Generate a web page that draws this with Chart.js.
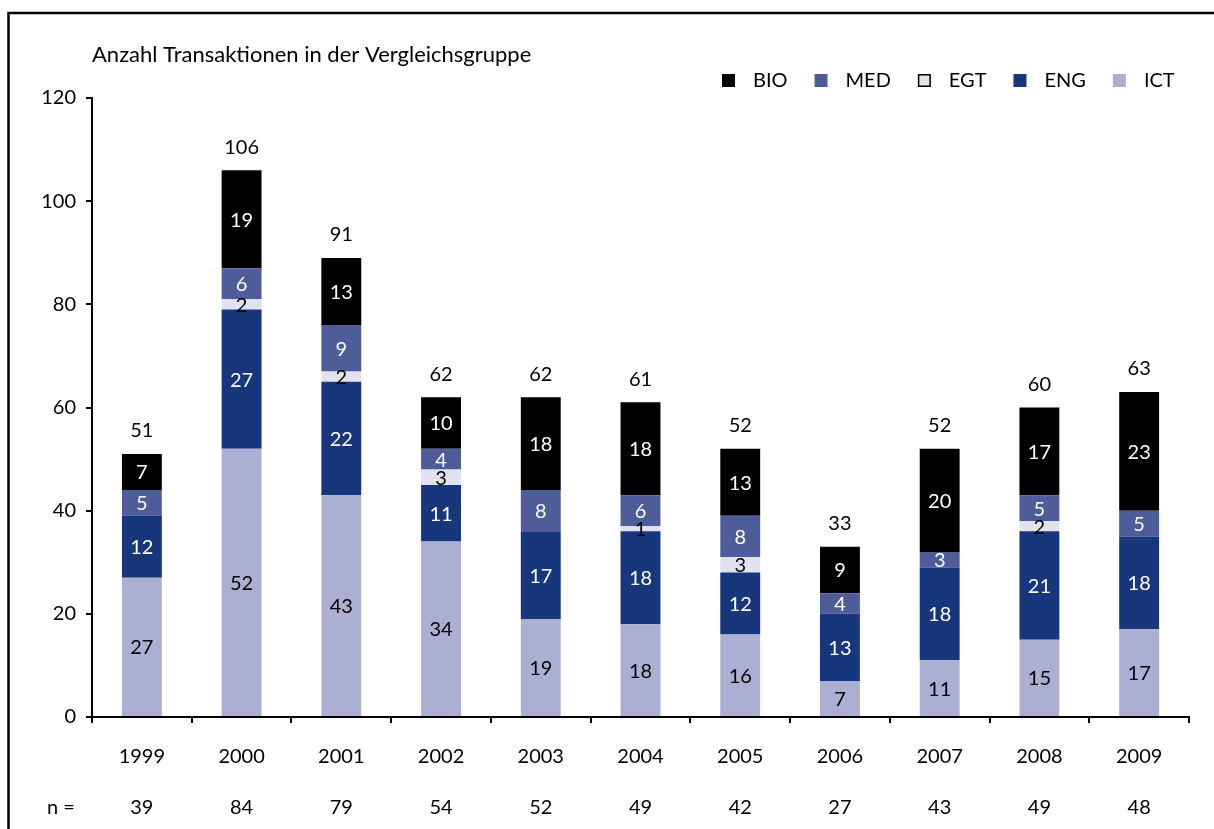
<!DOCTYPE html>
<html>
<head>
<meta charset="utf-8">
<script src="https://cdn.jsdelivr.net/npm/chart.js@4/dist/chart.umd.min.js"></script>
<style>
html,body{margin:0;padding:0;background:#fff;}
#wrap{width:1214px;height:829px;position:relative;}
</style>
</head>
<body>
<div id="wrap"><canvas id="c" width="1214" height="829"></canvas></div>
<script>
const years = ['1999','2000','2001','2002','2003','2004','2005','2006','2007','2008','2009'];
const ict = [27,52,43,34,19,18,16,7,11,15,17];
const eng = [12,27,22,11,17,18,12,13,18,21,18];
const egt = [0,2,2,3,0,1,3,0,0,2,0];
const med = [5,6,9,4,8,6,8,4,3,5,5];
const bio = [7,19,13,10,18,18,13,9,20,17,23];
const totals = [51,106,91,62,62,61,52,33,52,60,63];
const nValues = [39,84,79,54,52,49,42,27,43,49,48];
const yTicks = [0,20,40,60,80,100,120];
const titleText = 'Anzahl Transaktionen in der Vergleichsgruppe';
const nLabel = 'n =';

const FONT = 'Lato, "Open Sans", sans-serif';
const FS = 20;
const TITLE_FS = 22;

const datasets = [
  {label:'ICT', data:ict, backgroundColor:'#ABB0D2', labelColor:'#000'},
  {label:'ENG', data:eng, backgroundColor:'#17367C', labelColor:'#fff'},
  {label:'EGT', data:egt, backgroundColor:'#E2E2EE', labelColor:'#000', legendBorder:'#000'},
  {label:'MED', data:med, backgroundColor:'#4F5C9A', labelColor:'#fff'},
  {label:'BIO', data:bio, backgroundColor:'#000000', labelColor:'#fff'}
].map(d => Object.assign(d, {barPercentage:0.4, categoryPercentage:1.0, borderWidth:0}));

const overlay = {
  id:'overlay',
  afterDatasetsDraw(chart){
    const ctx = chart.ctx;
    const xs = chart.scales.x, ys = chart.scales.y;
    ctx.save();
    ctx.font = FS + 'px ' + FONT;
    ctx.textAlign = 'center';
    ctx.textBaseline = 'middle';
    // segment labels
    chart.data.datasets.forEach((ds, i) => {
      const meta = chart.getDatasetMeta(i);
      meta.data.forEach((el, j) => {
        const v = ds.data[j];
        if (!v) return;
        ctx.fillStyle = ds.labelColor;
        ctx.fillText(String(v), el.x, (el.y + el.base) / 2 + 1);
      });
    });
    // totals
    ctx.fillStyle = '#000';
    years.forEach((y, j) => {
      let sum = 0;
      chart.data.datasets.forEach(ds => sum += ds.data[j]);
      const top = ys.getPixelForValue(sum);
      ctx.fillText(String(totals[j]), xs.getPixelForValue(j), top - 23);
    });
    // n row
    nValues.forEach((n, j) => ctx.fillText(String(n), xs.getPixelForValue(j), 808));
    ctx.fillText(nLabel, 61, 808);
    // legend (reverse order)
    ctx.textAlign = 'left';
    const items = chart.data.datasets.slice().reverse();
    let x = 722;
    items.forEach(ds => {
      ctx.fillStyle = ds.backgroundColor;
      ctx.fillRect(x, 74, 13, 13);
      if (ds.legendBorder){
        ctx.strokeStyle = ds.legendBorder; ctx.lineWidth = 1.5;
        ctx.strokeRect(x + 0.75, 74.75, 11.5, 11.5);
      }
      ctx.fillStyle = '#000';
      ctx.fillText(ds.label, x + 31, 81);
      x += 31 + ctx.measureText(ds.label).width + 27;
    });
    // title
    ctx.font = TITLE_FS + 'px ' + FONT;
    ctx.fillText(titleText, 92, 55);
    // frame
    ctx.strokeStyle = '#000';
    ctx.lineWidth = 2.5;
    ctx.beginPath();
    ctx.moveTo(8.5, 829);
    ctx.lineTo(8.5, 13);
    ctx.lineTo(1214, 13);
    ctx.stroke();
    ctx.restore();
  }
};

new Chart(document.getElementById('c'), {
  type:'bar',
  data:{labels:years, datasets:datasets},
  options:{
    responsive:false,
    animation:false,
    layout:{padding:{top:98, left:0, right:25, bottom:0}},
    plugins:{legend:{display:false}, title:{display:false}, tooltip:{enabled:false}},
    scales:{
      x:{
        stacked:true,
        grid:{offset:true, drawOnChartArea:false, tickLength:6, color:'#000', lineWidth:2},
        border:{color:'#000', width:2},
        ticks:{font:{family:FONT, size:FS}, color:'#000', padding:22, maxRotation:0},
        afterFit(s){ s.height = 112; }
      },
      y:{
        stacked:true, min:0, max:120,
        afterBuildTicks(s){ s.ticks = yTicks.map(v => ({value:v})); },
        grid:{drawOnChartArea:false, tickLength:6, color:'#000', lineWidth:2},
        border:{color:'#000', width:2},
        ticks:{font:{family:FONT, size:FS}, color:'#000', padding:10},
        afterFit(s){ s.width = 92; }
      }
    }
  },
  plugins:[overlay]
});
</script>
</body>
</html>
